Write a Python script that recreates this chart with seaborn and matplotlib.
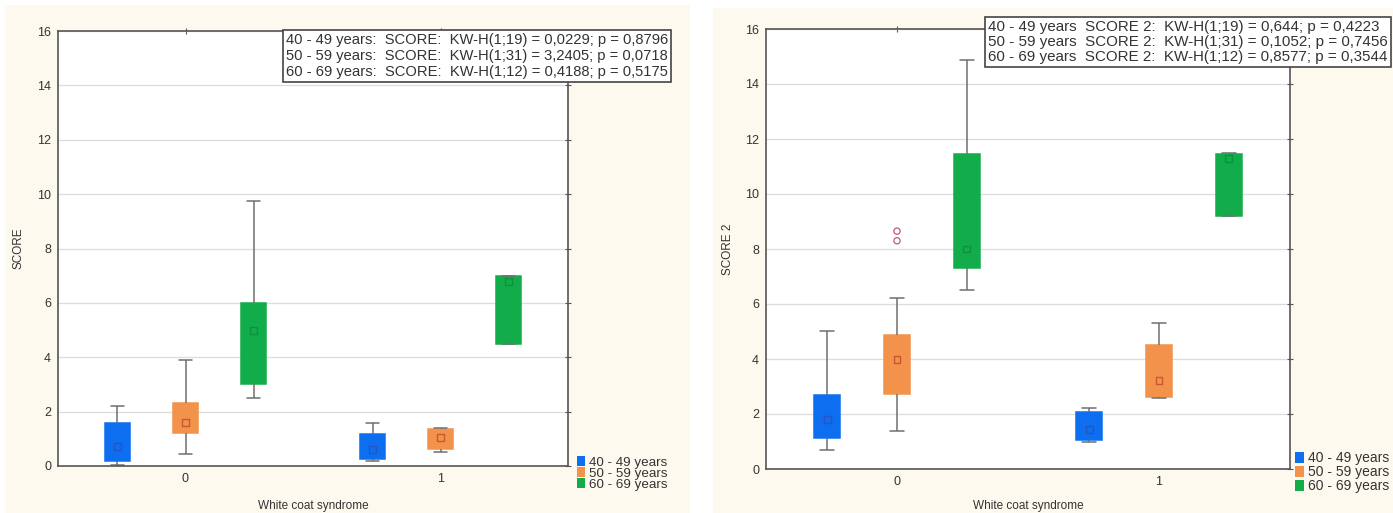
import numpy as np
import pandas as pd
import matplotlib
matplotlib.use('Agg')
import matplotlib.pyplot as plt
from matplotlib.patches import Patch, Rectangle
import seaborn as sns

# Categories
ages = ['40 - 49 years', '50 - 59 years', '60 - 69 years']
wcs = ['0', '1']
colors = ['#0d6ff0', '#f3924a', '#12ad4a']
median_colors = ['#2a4fb8', '#c0482c', '#0b8a3a']

# Box summaries, order: (0, 40-49), (0, 50-59), (0, 60-69), (1, 40-49), (1, 50-59), (1, 60-69)
score_min = [0.05, 0.43, 2.5, 0.2, 0.5, 4.5]
score_q1 = [0.2, 1.22, 3.0, 0.25, 0.61, 4.5]
score_med = [0.7, 1.6, 5.0, 0.6, 1.05, 6.8]
score_q3 = [1.6, 2.3, 6.0, 1.18, 1.35, 7.0]
score_max = [2.2, 3.9, 9.75, 1.6, 1.4, 7.0]

score2_min = [0.7, 1.39, 6.5, 1.0, 2.6, 9.2]
score2_q1 = [1.14, 2.72, 7.32, 1.05, 2.63, 9.2]
score2_med = [1.79, 3.99, 8.0, 1.45, 3.21, 11.3]
score2_q3 = [2.7, 4.89, 11.46, 2.06, 4.52, 11.47]
score2_max = [5.02, 6.21, 14.89, 2.23, 5.3, 11.5]

# Outliers (SCORE 2, white coat 0, 50 - 59 years)
out_wcs = ['0', '0']
out_age = ['50 - 59 years', '50 - 59 years']
out_val = [8.3, 8.65]

# Kruskal-Wallis annotations
kw_n = [19, 31, 12]
kw_h = ['0,0229', '3,2405', '0,4188']
kw_p = ['0,8796', '0,0718', '0,5175']
kw2_h = ['0,644', '0,1052', '0,8577']
kw2_p = ['0,4223', '0,7456', '0,3544']

groups = [(w, a) for w in wcs for a in ages]


def long_table(mins, q1s, meds, q3s, maxs):
    rows = []
    for (w, a), lo, q1, md, q3, hi in zip(groups, mins, q1s, meds, q3s, maxs):
        for v in (lo, q1, md, q3, hi):
            rows.append({'wcs': w, 'age': a, 'value': v})
    return pd.DataFrame(rows)


def median_table(meds):
    return pd.DataFrame({'wcs': [g[0] for g in groups],
                         'age': [g[1] for g in groups],
                         'value': meds})


sns.set_theme(style='white')
plt.rcParams['font.family'] = ['Liberation Sans', 'DejaVu Sans']
plt.rcParams['text.color'] = '#333333'
plt.rcParams['axes.labelcolor'] = '#333333'
plt.rcParams['xtick.color'] = '#333333'
plt.rcParams['ytick.color'] = '#333333'

fig = plt.figure(figsize=(13.93, 5.13), dpi=100, facecolor='white')
fig.patches.append(Rectangle((5 / 1393, 0), 685 / 1393, 508 / 513, transform=fig.transFigure,
                             facecolor='#fdf9ef', edgecolor='none', zorder=-10))
fig.patches.append(Rectangle((713 / 1393, 0), 680 / 1393, 505 / 513, transform=fig.transFigure,
                             facecolor='#fdf9ef', edgecolor='none', zorder=-10))

ax1 = fig.add_axes([58 / 1393, 1 - 466 / 513, 510 / 1393, 435 / 513])
ax2 = fig.add_axes([766 / 1393, 1 - 469 / 513, 524 / 1393, 440 / 513])


def draw_panel(ax, df, med, ylabel, ylabelpad, xlabelpad):
    sns.boxplot(data=df, x='wcs', y='value', hue='age', order=wcs, hue_order=ages,
                palette=colors, saturation=1, whis=np.inf, gap=0.62, width=0.8,
                linecolor='#6f6f6f', linewidth=1.1, showfliers=False,
                medianprops={'linewidth': 0}, legend=False, ax=ax)
    for p in ax.patches:
        p.set_edgecolor(p.get_facecolor())
    n0 = len(ax.collections)
    sns.stripplot(data=med, x='wcs', y='value', hue='age', order=wcs, hue_order=ages,
                  palette=median_colors, dodge=True, jitter=False, marker='s', size=5,
                  legend=False, ax=ax, zorder=5)
    for c in ax.collections[n0:]:
        fc = c.get_facecolor()
        c.set_edgecolor(fc)
        c.set_facecolor('none')
        c.set_linewidth(1.0)
        c.set_alpha(0.8)
    ax.set_ylim(0, 16)
    ax.set_xlim(-0.5, 1.5)
    ax.set_yticks(np.arange(0, 17, 2))
    ax.yaxis.grid(True, color='#dcdcdc', linewidth=0.9)
    ax.set_axisbelow(True)
    ax.set_facecolor('white')
    for s in ax.spines.values():
        s.set_color('#555555')
        s.set_linewidth(1.2)
    ax.tick_params(direction='inout', length=4, width=0.8, top=True, right=True,
                   labelsize=9, colors='#555555', labelcolor='#333333', pad=3)
    ax.set_xlabel('White coat syndrome', fontsize=8.5, labelpad=xlabelpad)
    ax.set_ylabel(ylabel, fontsize=8.5, labelpad=ylabelpad)


draw_panel(ax1, long_table(score_min, score_q1, score_med, score_q3, score_max),
           median_table(score_med), 'SCORE', 9, 11)
draw_panel(ax2, long_table(score2_min, score2_q1, score2_med, score2_q3, score2_max),
           median_table(score2_med), 'SCORE 2', 8, 9)

outliers = pd.DataFrame({'wcs': out_wcs, 'age': out_age, 'value': out_val})
n0 = len(ax2.collections)
sns.stripplot(data=outliers, x='wcs', y='value', hue='age', order=wcs, hue_order=ages,
              palette=['#c05878'] * 3, dodge=True, jitter=False, marker='o', size=4.5,
              legend=False, ax=ax2, zorder=5)
for c in ax2.collections[n0:]:
    c.set_edgecolor('#c05878')
    c.set_facecolor('none')
    c.set_linewidth(0.9)

# annotation boxes
lines1 = [f'{a}:  SCORE:  KW-H(1;{n}) = {h}; p = {p}' for a, n, h, p in zip(ages, kw_n, kw_h, kw_p)]
lines2 = [f'{a}  SCORE 2:  KW-H(1;{n}) = {h}; p = {p}' for a, n, h, p in zip(ages, kw_n, kw2_h, kw2_p)]
box = dict(boxstyle='square,pad=0.2', facecolor='white', edgecolor='#444444', linewidth=1.2)
fig.text(286 / 1393, 1 - 33 / 513, '\n'.join(lines1), ha='left', va='top', fontsize=10.6,
         linespacing=1.18, bbox=box)
fig.text(988 / 1393, 1 - 20 / 513, '\n'.join(lines2), ha='left', va='top', fontsize=10.9,
         linespacing=1.1, bbox=box)

# legends
handles = [Patch(facecolor=c, edgecolor='none', label=a) for c, a in zip(colors, ages)]
ax1.legend(handles=handles, loc='upper left', bbox_to_anchor=(1.012, 0.028), frameon=False,
           fontsize=9.6, handlelength=0.6, handleheight=0.75, handletextpad=0.3,
           labelspacing=-0.12, borderaxespad=0.0, borderpad=0.2)
ax2.legend(handles=handles, loc='upper left', bbox_to_anchor=(1.005, 0.047), frameon=False,
           fontsize=10, handlelength=0.6, handleheight=0.8, handletextpad=0.3,
           labelspacing=0.0, borderaxespad=0.0, borderpad=0.2)

fig.savefig('out.png', dpi=100)
